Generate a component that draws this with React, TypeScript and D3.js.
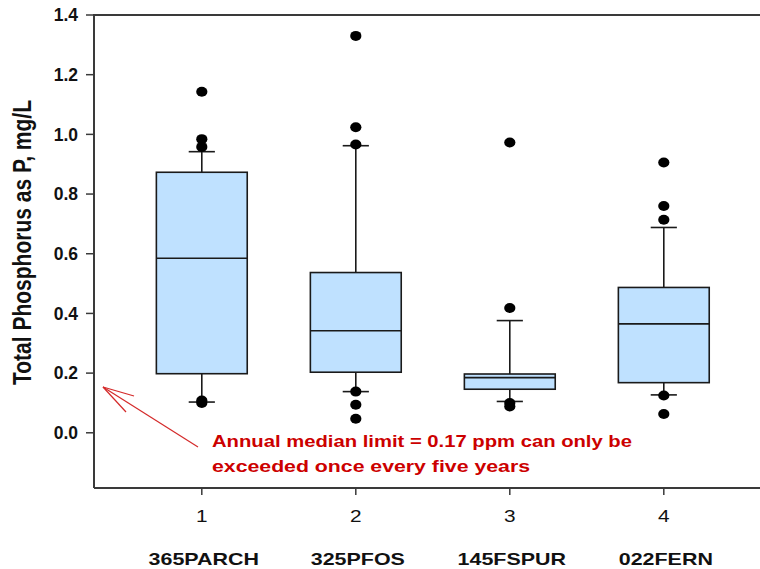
import React from "react";
import * as d3 from "d3";

const categories = ["365PARCH", "325PFOS", "145FSPUR", "022FERN"];
const positions = [1, 2, 3, 4];
const yTicks = [0.0, 0.2, 0.4, 0.6, 0.8, 1.0, 1.2, 1.4];

const q1 = [0.198, 0.203, 0.146, 0.168];
const median = [0.585, 0.342, 0.185, 0.365];
const q3 = [0.873, 0.537, 0.197, 0.487];
const whiskerLow = [0.103, 0.138, 0.105, 0.127];
const whiskerHigh = [0.942, 0.962, 0.376, 0.688];
const outliers = [
  [1.143, 0.984, 0.958, 0.108, 0.1],
  [1.33, 1.024, 0.966, 0.138, 0.094, 0.047],
  [0.973, 0.418, 0.1, 0.088],
  [0.906, 0.76, 0.714, 0.125, 0.063],
];

const WIDTH = 760;
const HEIGHT = 569;
const LEFT = 94;
const TOP = 15;
const BOTTOM = 488;
// the source picture is stretched sideways, so the text is too
const STRETCH = 1.3;

export default function App() {
  const x = d3.scaleLinear().domain([0.3, 4.7]).range([LEFT, LEFT + 4.4 * 154]);
  const y = d3.scaleLinear().domain([-0.185, 1.4]).range([BOTTOM, TOP]);
  const boxHalf = 0.295;
  const capHalf = 0.085;

  return (
    <>
      <style>{`body{margin:0}`}</style>
      <svg
        width={WIDTH}
        height={HEIGHT}
        style={{ display: "block", fontFamily: "'Liberation Sans', Arial, sans-serif" }}
      >
        <rect width={WIDTH} height={HEIGHT} fill="#fff" />

        {/* frame */}
        <path
          d={`M${LEFT},${BOTTOM}V${TOP}H${WIDTH + 20}M${LEFT},${BOTTOM}H${WIDTH + 20}`}
          fill="none"
          stroke="#3a3a3a"
          strokeWidth={2}
        />

        {/* y axis */}
        {yTicks.map((t) => (
          <g key={t}>
            <line x1={LEFT - 8} x2={LEFT} y1={y(t)} y2={y(t)} stroke="#3a3a3a" strokeWidth={1.5} />
            <text
              x={78}
              y={y(t)}
              dy="0.36em"
              textAnchor="end"
              fontSize={17.5}
              fontWeight="bold"
              fill="#111"
            >
              {t.toFixed(1)}
            </text>
          </g>
        ))}
        <text
          transform={`translate(31,${(97 + 388) / 2}) scale(1.25,1) rotate(-90)`}
          textAnchor="middle"
          fontSize={21}
          fontWeight="bold"
          fill="#111"
        >
          Total Phosphorus as P, mg/L
        </text>

        {/* x axis */}
        {positions.map((p, i) => (
          <g key={p}>
            <line x1={x(p)} x2={x(p)} y1={BOTTOM} y2={BOTTOM + 7} stroke="#3a3a3a" strokeWidth={1.5} />
            <text
              transform={`translate(${x(p)},522) scale(${STRETCH},1)`}
              textAnchor="middle"
              fontSize={16}
              fill="#111"
            >
              {p}
            </text>
            <text
              transform={`translate(${x(p) + 2},565) scale(${STRETCH},1)`}
              textAnchor="middle"
              fontSize={16.5}
              fontWeight="bold"
              fill="#111"
            >
              {categories[i]}
            </text>
          </g>
        ))}

        {/* boxes */}
        {positions.map((p, i) => (
          <g key={"b" + p} stroke="#1a1a1a" strokeWidth={1.6}>
            <line x1={x(p)} x2={x(p)} y1={y(q3[i])} y2={y(whiskerHigh[i])} />
            <line x1={x(p)} x2={x(p)} y1={y(q1[i])} y2={y(whiskerLow[i])} />
            <line x1={x(p - capHalf)} x2={x(p + capHalf)} y1={y(whiskerHigh[i])} y2={y(whiskerHigh[i])} />
            <line x1={x(p - capHalf)} x2={x(p + capHalf)} y1={y(whiskerLow[i])} y2={y(whiskerLow[i])} />
            <rect
              x={x(p - boxHalf)}
              y={y(q3[i])}
              width={x(p + boxHalf) - x(p - boxHalf)}
              height={y(q1[i]) - y(q3[i])}
              fill="#bfe1ff"
            />
            <line x1={x(p - boxHalf)} x2={x(p + boxHalf)} y1={y(median[i])} y2={y(median[i])} />
            {outliers[i].map((v, j) => (
              <ellipse key={j} cx={x(p)} cy={y(v)} rx={5.6} ry={5} fill="#000" stroke="none" />
            ))}
          </g>
        ))}

        {/* annotation */}
        <g stroke="#d42a2a" strokeWidth={1.2} fill="none">
          <line x1={198} y1={447} x2={103} y2={387} />
          <line x1={103} y1={387} x2={134} y2={396} />
          <line x1={103} y1={387} x2={126} y2={412} />
        </g>
        <text
          x={212}
          y={447}
          fontSize={16.5}
          fontWeight="bold"
          fill="#cc0000"
          textLength={420}
          lengthAdjust="spacingAndGlyphs"
        >
          Annual median limit = 0.17 ppm can only be
        </text>
        <text
          x={212}
          y={472}
          fontSize={16.5}
          fontWeight="bold"
          fill="#cc0000"
          textLength={318}
          lengthAdjust="spacingAndGlyphs"
        >
          exceeded once every five years
        </text>
      </svg>
    </>
  );
}
